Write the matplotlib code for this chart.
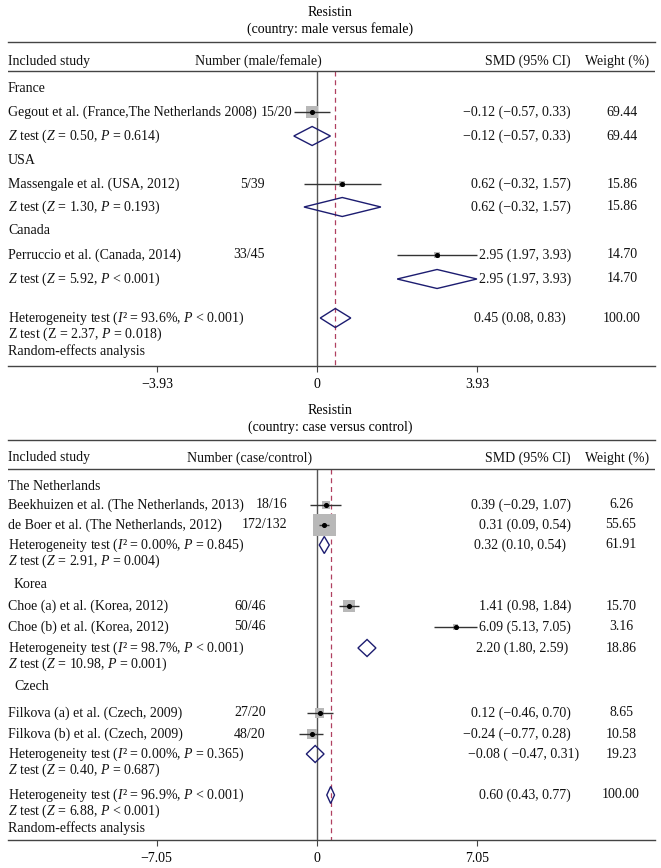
import numpy as np
import matplotlib.pyplot as plt
import matplotlib.transforms as mtransforms
from matplotlib.patches import Polygon

plt.rcParams['font.family'] = ['Liberation Serif', 'DejaVu Serif']
plt.rcParams['mathtext.fontset'] = 'custom'
plt.rcParams['mathtext.rm'] = 'Liberation Serif'
plt.rcParams['mathtext.it'] = 'Liberation Serif:italic'
plt.rcParams['font.size'] = 10

# ---- data: top panel (male versus female) ----
top_studies = ["Gegout et al. (France,The Netherlands 2008)",
               "Massengale et al. (USA, 2012)",
               "Perruccio et al. (Canada, 2014)"]
top_numbers = ["15/20", "5/39", "33/45"]
top_smd = [-0.12, 0.62, 2.95]
top_lo = [-0.57, -0.32, 1.97]
top_hi = [0.33, 1.57, 3.93]
top_weight = [69.44, 15.86, 14.70]
top_groups = ["France", "USA", "Canada"]
top_sub_text = ["$Z$ test ($Z$ = 0.50, $P$ = 0.614)",
                "$Z$ test ($Z$ = 1.30, $P$ = 0.193)",
                "$Z$ test ($Z$ = 5.92, $P$ < 0.001)"]
top_sub_smd = [-0.12, 0.62, 2.95]
top_sub_lo = [-0.57, -0.32, 1.97]
top_sub_hi = [0.33, 1.57, 3.93]
top_sub_weight = [69.44, 15.86, 14.70]
top_overall = (0.45, 0.08, 0.83, 100.00)
top_overall_text = ["Heterogeneity test ($I$\u00b2 = 93.6%, $P$ < 0.001)",
                    "Z test (Z = 2.37, $P$ = 0.018)"]
top_ticks = [-3.93, 0, 3.93]

# ---- data: bottom panel (case versus control) ----
bot_studies = ["Beekhuizen et al. (The Netherlands, 2013)",
               "de Boer et al. (The Netherlands, 2012)",
               "Choe (a) et al. (Korea, 2012)",
               "Choe (b) et al. (Korea, 2012)",
               "Filkova (a) et al. (Czech, 2009)",
               "Filkova (b) et al. (Czech, 2009)"]
bot_numbers = ["18/16", "172/132", "60/46", "50/46", "27/20", "48/20"]
bot_smd = [0.39, 0.31, 1.41, 6.09, 0.12, -0.24]
bot_lo = [-0.29, 0.09, 0.98, 5.13, -0.46, -0.77]
bot_hi = [1.07, 0.54, 1.84, 7.05, 0.70, 0.28]
bot_weight = [6.26, 55.65, 15.70, 3.16, 8.65, 10.58]
bot_groups = ["The Netherlands", "Korea", "Czech"]
bot_sub_text = [["Heterogeneity test ($I$\u00b2 = 0.00%, $P$ = 0.845)",
                 "$Z$ test ($Z$ = 2.91, $P$ = 0.004)"],
                ["Heterogeneity test ($I$\u00b2 = 98.7%, $P$ < 0.001)",
                 "$Z$ test ($Z$ = 10.98, $P$ = 0.001)"],
                ["Heterogeneity test ($I$\u00b2 = 0.00%, $P$ = 0.365)",
                 "$Z$ test ($Z$ = 0.40, $P$ = 0.687)"]]
bot_sub_smd = [0.32, 2.20, -0.08]
bot_sub_lo = [0.10, 1.80, -0.47]
bot_sub_hi = [0.54, 2.59, 0.31]
bot_sub_weight = [61.91, 18.86, 19.23]
bot_sub_ci_text = ["0.32 (0.10, 0.54)", "2.20 (1.80, 2.59)", "\u22120.08 ( \u22120.47, 0.31)"]
bot_overall = (0.60, 0.43, 0.77, 100.00)
bot_overall_text = ["Heterogeneity test ($I$\u00b2 = 96.9%, $P$ < 0.001)",
                    "$Z$ test ($Z$ = 6.88, $P$ < 0.001)"]
bot_ticks = [-7.05, 0, 7.05]

W, H = 661, 868
fig = plt.figure(figsize=(W / 100, H / 100), dpi=100)

SQ = '#b8b8b8'
CI = '#333333'
DIA = '#1c1c70'
RED = '#b04060'
AX = '#444444'
CI_X = 571   # right edge of the SMD column


def fmt(v):
    return f"{v:.2f}".replace('-', '\u2212')


def ci_text(e, lo, hi):
    return f"{fmt(e)} ({fmt(lo)}, {fmt(hi)})"


def make_axes(top_px, bot_px, x0, px_per_unit, ticks):
    ax = fig.add_axes([8 / W, 1 - bot_px / H, (655 - 8) / W, (bot_px - top_px) / H])
    ax.set_xlim((8 - x0) / px_per_unit, (655 - x0) / px_per_unit)
    ax.set_ylim(bot_px, top_px)
    for s in ['left', 'right']:
        ax.spines[s].set_visible(False)
    for s in ['top', 'bottom']:
        ax.spines[s].set_color(AX)
        ax.spines[s].set_linewidth(1.0)
    ax.set_yticks([])
    ax.set_xticks(ticks)
    ax.set_xticklabels([str(t).replace('-', '\u2212') if t != 0 else '0' for t in ticks])
    ax.tick_params(axis='x', direction='out', length=4, width=0.8, color=AX, pad=5, labelsize=10)
    return ax


def txt(ax, xpx, y, s, ha='left', **kw):
    tr = mtransforms.blended_transform_factory(fig.transFigure, ax.transData)
    ax.text(xpx / W, y, s, transform=tr, ha=ha, va='center', fontsize=10, color='#111111', **kw)


def study(ax, y, e, lo, hi, w, k):
    ax.hlines(y, lo, hi, color=CI, lw=1.0, zorder=3)
    side = k * np.sqrt(w) * 0.72
    ax.scatter([e], [y], marker='s', s=side ** 2, color=SQ, edgecolor='none', zorder=2)
    ax.scatter([e], [y], marker='o', s=7, color='black', zorder=4)


def diamond(ax, y, e, lo, hi, half):
    ax.add_patch(Polygon([[lo, y], [e, y - half], [hi, y], [e, y + half]], closed=True,
                         fill=False, edgecolor=DIA, lw=1.0, zorder=3))


# ================= top panel =================
fig.text(330 / W, 1 - 13 / H, "Resistin", ha='center', va='center', fontsize=10)
fig.text(330 / W, 1 - 29 / H, "(country: male versus female)", ha='center', va='center', fontsize=10)
ax1 = make_axes(42, 366, 317, 40.7, top_ticks)
ax1.axhline(71, color=AX, lw=1.0)
ax1.vlines(0, 71, 366, color='#555555', lw=1.0, zorder=1)
ax1.vlines(top_overall[0], 71, 366, color=RED, lw=0.9, linestyles=(0, (4, 3)), zorder=1)

txt(ax1, 8, 61, "Included study")
txt(ax1, 258, 61, "Number (male/female)", ha='center')
txt(ax1, CI_X, 61, "SMD (95% CI)", ha='right')
txt(ax1, 617, 61, "Weight (%)", ha='center')

group_y = [89, 160, 231]
study_y = [112, 184, 255]
sub_y = [136, 207, 279]
num_x = [261, 240, 233]
for i in range(3):
    txt(ax1, 8, group_y[i], top_groups[i])
    txt(ax1, 8, study_y[i], top_studies[i])
    txt(ax1, num_x[i], study_y[i], top_numbers[i])
    study(ax1, study_y[i], top_smd[i], top_lo[i], top_hi[i], top_weight[i], 1.44)
    txt(ax1, CI_X, study_y[i], ci_text(top_smd[i], top_lo[i], top_hi[i]), ha='right')
    txt(ax1, 622, study_y[i], f"{top_weight[i]:.2f}", ha='center')
    txt(ax1, 8, sub_y[i], top_sub_text[i])
    diamond(ax1, sub_y[i], top_sub_smd[i], top_sub_lo[i], top_sub_hi[i], 9.5)
    txt(ax1, CI_X, sub_y[i], ci_text(top_sub_smd[i], top_sub_lo[i], top_sub_hi[i]), ha='right')
    txt(ax1, 622, sub_y[i], f"{top_sub_weight[i]:.2f}", ha='center')

e, lo, hi, w = top_overall
txt(ax1, 8, 318, top_overall_text[0])
txt(ax1, 8, 334, top_overall_text[1])
txt(ax1, 8, 351, "Random-effects analysis")
diamond(ax1, 318, e, lo, hi, 9.5)
txt(ax1, CI_X - 5, 318, ci_text(e, lo, hi), ha='right')
txt(ax1, 622, 318, f"{w:.2f}", ha='center')

# ================= bottom panel =================
fig.text(330 / W, 1 - 411 / H, "Resistin", ha='center', va='center', fontsize=10)
fig.text(330 / W, 1 - 427 / H, "(country: case versus control)", ha='center', va='center', fontsize=10)
ax2 = make_axes(440, 840, 317, 22.75, bot_ticks)
ax2.axhline(469, color=AX, lw=1.0)
ax2.vlines(0, 469, 840, color='#555555', lw=1.0, zorder=1)
ax2.vlines(bot_overall[0], 469, 840, color=RED, lw=0.9, linestyles=(0, (4, 3)), zorder=1)

txt(ax2, 8, 458, "Included study")
txt(ax2, 250, 458, "Number (case/control)", ha='center')
txt(ax2, CI_X, 458, "SMD (95% CI)", ha='right')
txt(ax2, 617, 458, "Weight (%)", ha='center')

bgroup_y = [487, 584, 686]
bgroup_x = [8, 14, 14]
bstudy_y = [505, 525, 606, 627, 713, 734]
bnum_x = [256, 242, 234, 234, 234, 234]
bsub_y = [545, 648, 754]
bsub_ci_x = [CI_X - 5, CI_X - 3, CI_X + 8]
for i in range(6):
    y = bstudy_y[i]
    txt(ax2, 8, y, bot_studies[i])
    txt(ax2, bnum_x[i], y, bot_numbers[i])
    study(ax2, y, bot_smd[i], bot_lo[i], bot_hi[i], bot_weight[i], 3.08)
    txt(ax2, CI_X, y, ci_text(bot_smd[i], bot_lo[i], bot_hi[i]), ha='right')
    txt(ax2, 621, y, f"{bot_weight[i]:.2f}", ha='center')
for g in range(3):
    txt(ax2, bgroup_x[g], bgroup_y[g], bot_groups[g])
    y = bsub_y[g]
    txt(ax2, 8, y, bot_sub_text[g][0])
    txt(ax2, 8, y + 16, bot_sub_text[g][1])
    diamond(ax2, y, bot_sub_smd[g], bot_sub_lo[g], bot_sub_hi[g], 8.5)
    txt(ax2, bsub_ci_x[g], y, bot_sub_ci_text[g], ha='right')
    txt(ax2, 621, y, f"{bot_sub_weight[g]:.2f}", ha='center')

e, lo, hi, w = bot_overall
txt(ax2, 8, 795, bot_overall_text[0])
txt(ax2, 8, 811, bot_overall_text[1])
txt(ax2, 8, 828, "Random-effects analysis")
diamond(ax2, 795, e, lo, hi, 8.5)
txt(ax2, CI_X, 795, ci_text(e, lo, hi), ha='right')
txt(ax2, 621, 795, f"{w:.2f}", ha='center')

fig.savefig('out.png', dpi=100)
